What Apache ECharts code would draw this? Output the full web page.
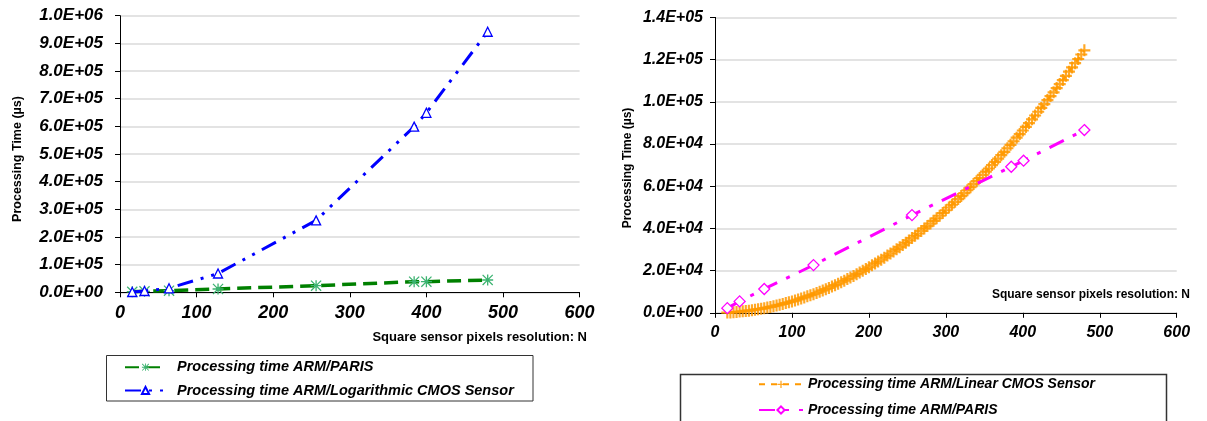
<!DOCTYPE html>
<html>
<head>
<meta charset="utf-8">
<script src="https://cdn.jsdelivr.net/npm/echarts@6/dist/echarts.min.js"></script>
<style>html,body{margin:0;padding:0;background:#fff;}#c{width:1207px;height:421px;}</style>
</head>
<body>
<div id="c"></div>
<script>
// ---- Left chart data ----
const leftN = [16, 32, 64, 128, 256, 384, 400, 480];
const leftParis = [2000, 3500, 6000, 12000, 24000, 38400, 38400, 44500];
const leftLogCmos = [1000, 4700, 14500, 68000, 260000, 599000, 649000, 942000];
// ---- Right chart data ----
const rightParisN = [16, 32, 64, 128, 256, 385, 401, 480];
const rightParis = [2200, 5400, 11300, 22600, 46300, 69200, 72100, 86600];
const linN = [16,20,24,28,32,36,40,44,48,52,56,60,64,68,72,76,80,84,88,92,96,100,104,108,112,116,120,124,128,132,136,140,144,148,152,156,160,164,168,172,176,180,184,188,192,196,200,204,208,212,216,220,224,228,232,236,240,244,248,252,256,260,264,268,272,276,280,284,288,292,296,300,304,308,312,316,320,324,328,332,336,340,344,348,352,356,360,364,368,372,376,380,384,388,392,396,400,404,408,412,416,420,424,428,432,436,440,444,448,452,456,460,464,468,472,476,480];
const linCmos = [100,200,300,400,600,700,900,1000,1200,1500,1700,1900,2200,2500,2800,3100,3500,3800,4200,4600,5000,5400,5800,6300,6800,7300,7800,8300,8800,9400,10000,10600,11200,11800,12500,13100,13800,14500,15200,16000,16700,17500,18300,19100,19900,20700,21600,22500,23400,24300,25200,26100,27100,28100,29100,30100,31100,32100,33200,34300,35400,36500,37600,38800,40000,41100,42300,43600,44800,46000,47300,48600,49900,51200,52600,53900,55300,56700,58100,59500,61000,62400,63900,65400,66900,68400,70000,71500,73100,74700,76300,78000,79600,81300,83000,84700,86400,88100,89900,91700,93500,95300,97100,98900,100800,102700,104500,106500,108400,110300,112300,114300,116300,118300,120300,122400,124400];
const xTicks = [0, 100, 200, 300, 400, 500, 600];

const pairs = (xs, ys) => xs.map((x, i) => [x, ys[i]]);
const sci = v => {
  if (v === 0) return '0.0E+00';
  const e = Math.floor(Math.log10(Math.abs(v)) + 1e-9);
  const m = v / Math.pow(10, e);
  return m.toFixed(1) + 'E+' + String(e).padStart(2, '0');
};

const asterisk = 'path://M4.4,0H5.6V10H4.4Z M0,4.4H10V5.6H0Z M0.8,0L10,9.2L9.2,10L0,0.8Z M9.2,0L10,0.8L0.8,10L0,9.2Z';
const plus = 'path://M4.1,0H5.9V10H4.1Z M0,4.1H10V5.9H0Z';

const fontL = 'Liberation Sans';
const axisLine = {show: true, lineStyle: {color: '#000', width: 1}};
const split = {show: true, lineStyle: {color: '#dadada', width: 1.5}};

function xAxis(gi, size) {
  return {
    type: 'value', gridIndex: gi, min: 0, max: 600, interval: 100,
    axisLine: axisLine, axisTick: {show: true, length: 5, lineStyle: {color: '#000'}},
    splitLine: {show: false},
    axisLabel: {margin: 12, fontFamily: fontL, fontStyle: 'italic', fontWeight: 'bold', fontSize: size, color: '#000',
      formatter: v => String(xTicks[xTicks.indexOf(v)])}
  };
}
function yAxis(gi, max, interval, size, margin) {
  return {
    type: 'value', gridIndex: gi, min: 0, max: max, interval: interval,
    axisLine: axisLine, axisTick: {show: true, length: 5, lineStyle: {color: '#000'}},
    splitLine: split,
    axisLabel: {margin: margin, fontFamily: fontL, fontStyle: 'italic', fontWeight: 'bold', fontSize: size, color: '#000', formatter: sci}
  };
}

const chart = echarts.init(document.getElementById('c'), null, {renderer: 'canvas'});
chart.setOption({
  backgroundColor: '#fff',
  animation: false,
  grid: [
    {left: 120, top: 15.7, width: 459.6, height: 276.6},
    {left: 715, top: 17.4, width: 461.7, height: 295.4}
  ],
  xAxis: [xAxis(0, 18), xAxis(1, 16)],
  yAxis: [yAxis(0, 1000000, 100000, 17, 17), yAxis(1, 140000, 20000, 16, 12)],
  legend: [
    {
      orient: 'vertical', left: 124, top: 359.7, itemWidth: 41, itemHeight: 9, itemGap: 8.3, padding: 0,
      data: ['Processing time ARM/PARIS', 'Processing time ARM/Logarithmic CMOS Sensor'],
      textStyle: {fontFamily: fontL, fontStyle: 'italic', fontWeight: 'bold', fontSize: 14.5, lineHeight: 14, color: '#000', padding: [0, 0, 0, 6]}
    },
    {
      orient: 'vertical', left: 758, top: 377.3, itemWidth: 44, itemHeight: 9, itemGap: 11.7, padding: 0,
      data: ['Processing time ARM/Linear CMOS Sensor', 'Processing time ARM/PARIS '],
      textStyle: {fontFamily: fontL, fontStyle: 'italic', fontWeight: 'bold', fontSize: 14, lineHeight: 14, color: '#000'},
      formatter: n => n.trim()
    }
  ],
  graphic: [
    {type: 'rect', shape: {x: 106.5, y: 355.5, width: 426.5, height: 45.5}, style: {fill: 'none', stroke: '#333', lineWidth: 1}, z: 0},
    {type: 'rect', shape: {x: 680.5, y: 374.5, width: 486, height: 60}, style: {fill: 'none', stroke: '#333', lineWidth: 1.5}, z: 0},
    {type: 'text', x: 18, y: 159, rotation: Math.PI / 2,
      style: {text: 'Processing Time (µs)', font: 'bold 12.5px "Liberation Sans"', fill: '#000', textAlign: 'center', textVerticalAlign: 'middle'}},
    {type: 'text', x: 628, y: 168, rotation: Math.PI / 2,
      style: {text: 'Processing Time (µs)', font: 'bold 12px "Liberation Sans"', fill: '#000', textAlign: 'center', textVerticalAlign: 'middle'}},
    {type: 'text', x: 587, y: 337,
      style: {text: 'Square sensor pixels resolution: N', font: 'bold 13px "Liberation Sans"', fill: '#000', textAlign: 'right', textVerticalAlign: 'middle'}},
    {type: 'text', x: 1190, y: 295,
      style: {text: 'Square sensor pixels resolution: N', font: 'bold 12px "Liberation Sans"', fill: '#000', textAlign: 'right', textVerticalAlign: 'middle'}}
  ],
  series: [
    {
      name: 'Processing time ARM/PARIS', type: 'line', xAxisIndex: 0, yAxisIndex: 0,
      data: pairs(leftN, leftParis),
      symbol: asterisk, symbolSize: 11,
      itemStyle: {color: '#3cb371', borderWidth: 0},
      lineStyle: {color: '#008000', width: 3.5, type: [14, 7]},
      z: 3
    },
    {
      name: 'Processing time ARM/Logarithmic CMOS Sensor', type: 'line', xAxisIndex: 0, yAxisIndex: 0,
      data: pairs(leftN, leftLogCmos),
      symbol: 'triangle', symbolSize: 9,
      itemStyle: {color: '#fff', borderColor: '#0000ff', borderWidth: 1.3},
      lineStyle: {color: '#0000ff', width: 3, type: [16, 8, 3, 8, 3, 8]},
      z: 4
    },
    {
      name: 'Processing time ARM/Linear CMOS Sensor', type: 'line', xAxisIndex: 1, yAxisIndex: 1,
      data: pairs(linN, linCmos),
      symbol: plus, symbolSize: 12,
      itemStyle: {color: '#ff9900', opacity: 0.85, borderWidth: 0},
      lineStyle: {color: '#ff9900', width: 2.5, type: [6, 6]},
      z: 3
    },
    {
      name: 'Processing time ARM/PARIS ', type: 'line', xAxisIndex: 1, yAxisIndex: 1,
      data: pairs(rightParisN, rightParis),
      symbol: 'diamond', symbolSize: 11,
      itemStyle: {color: '#fff', borderColor: '#ff00ff', borderWidth: 1.3},
      lineStyle: {color: '#ff00ff', width: 3, type: [16, 10, 4, 10]},
      z: 4
    }
  ]
});
</script>
</body>
</html>
